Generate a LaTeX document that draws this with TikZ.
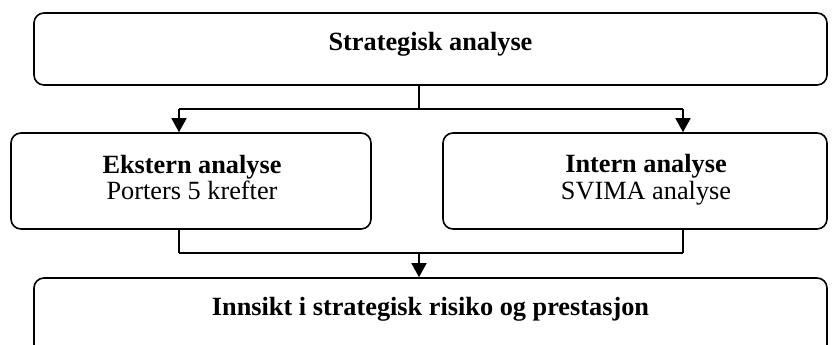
\documentclass[tikz,border=0pt]{standalone}
\usepackage{fontspec}
\setmainfont{Liberation Serif}
\usetikzlibrary{arrows.meta}
\begin{document}
\begin{tikzpicture}[x=1pt,y=-1pt,
  box/.style={draw, line width=1.6pt, rounded corners=10pt, inner sep=0pt},
  lbl/.style={inner sep=0pt, anchor=base, font=\fontsize{26.3}{30}\selectfont},
  conn/.style={line width=1.6pt},
  arr/.style={conn, -{Triangle[width=15pt,length=14pt]}}]
\clip (0,0) rectangle (840,345);

% boxes
\node[box, minimum width=793pt, minimum height=72pt] (top) at (430.5,49) {};
\node[box, minimum width=360pt, minimum height=96pt] (left) at (191,181) {};
\node[box, minimum width=384pt, minimum height=96pt] (right) at (635,181) {};
\node[box, minimum width=793pt, minimum height=82pt] (bottom) at (430.5,319) {};

% texts
\node[lbl] (ttop) at (430.5,51) {\textbf{Strategisk analyse}};
\node[lbl] (tleft1) at (192,173) {\textbf{Ekstern analyse}};
\node[lbl] (tleft2) at (192,199) {Porters 5 krefter};
\node[lbl] (tright1) at (646,172) {\textbf{Intern analyse}};
\node[lbl] (tright2) at (646,199) {SVIMA analyse};
\node[lbl] (tbottom) at (430.5,315) {\textbf{Innsikt i strategisk risiko og prestasjon}};

% connector junctions
\coordinate (split) at (419,109);
\coordinate (la) at (179,109);
\coordinate (ra) at (683,109);
\coordinate (merge) at (419,253);
\coordinate (lb) at (179,253);
\coordinate (rb) at (683,253);

% split from the top box into the two analyses
\draw[conn] (top.south -| split) -- (split);
\draw[conn] (la) -- (ra);
\draw[arr] (la) -- (la |- left.north);
\draw[arr] (ra) -- (ra |- right.north);

% merge of the two analyses into the bottom box
\draw[conn] (left.south -| lb) -- (lb);
\draw[conn] (right.south -| rb) -- (rb);
\draw[conn] (lb) -- (rb);
\draw[arr] (merge) -- (merge |- bottom.north);
\end{tikzpicture}
\end{document}
